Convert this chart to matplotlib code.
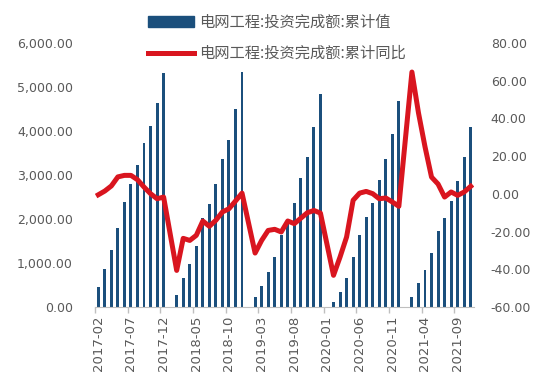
import numpy as np
import pandas as pd
import matplotlib
matplotlib.use('Agg')
import matplotlib.pyplot as plt
from matplotlib.patches import Patch
from matplotlib.lines import Line2D
from matplotlib.ticker import FuncFormatter

plt.rcParams['font.family'] = ['DejaVu Sans', 'Noto Sans CJK SC']

nan = np.nan

# months 2017-02 .. 2021-11, January has no data
months = pd.period_range('2017-02', '2021-11', freq='M').strftime('%Y-%m').tolist()

# 电网工程:投资完成额:累计值 (bars)
val_2017 = [448, 857, 1295, 1788, 2386, 2795, 3227, 3720, 4114, 4644, 5326]
val_2018 = [nan, 273, 651, 977, 1394, 2015, 2341, 2788, 3356, 3795, 4500, 5348]
val_2019 = [nan, 235, 485, 788, 1144, 1636, 1886, 2356, 2939, 3402, 4098, 4841]
val_2020 = [nan, 121, 348, 651, 1129, 1636, 2038, 2356, 2886, 3356, 3932, 4689]
val_2021 = [nan, 220, 538, 841, 1235, 1727, 2015, 2409, 2871, 3416, 4083]

# 电网工程:投资完成额:累计同比 (line)
yoy_2017 = [-0.5, 1.5, 4.2, 9.0, 9.8, 9.8, 7.5, 3.6, 0.1, -2.6, -1.7]
yoy_2018 = [nan, -40.6, -23.6, -24.7, -22.0, -14.4, -17.2, -14.0, -9.6, -7.9, -3.8, 0.4]
yoy_2019 = [nan, -31.4, -24.7, -19.4, -18.8, -20.2, -14.4, -15.8, -12.9, -10.0, -8.8, -10.2]
yoy_2020 = [nan, -43.2, -33.5, -22.9, -3.4, 0.4, 1.3, 0.1, -2.6, -2.2, -4.3, -6.6]
yoy_2021 = [nan, 64.6, 43.0, 25.0, 8.9, 5.2, -1.7, 1.0, -0.8, 1.0, 4.0]

values = np.array(val_2017 + val_2018 + val_2019 + val_2020 + val_2021, dtype=float)
yoy = np.array(yoy_2017 + yoy_2018 + yoy_2019 + yoy_2020 + yoy_2021, dtype=float)

bar_color = '#1B4F7C'
line_color = '#D9151F'
text_color = '#595959'

fig = plt.figure(figsize=(5.5, 3.9), dpi=100)
ax = fig.add_axes([95 / 550, 1 - 307 / 390, 379 / 550, 264 / 390])
ax2 = ax.twinx()

x = np.arange(len(months))
ax.bar(x, np.nan_to_num(values), width=0.45, color=bar_color, zorder=2)
ok = ~np.isnan(yoy)
ax2.plot(x[ok], yoy[ok], color=line_color, lw=3.6, solid_joinstyle='round', zorder=3)

ax.set_xlim(-0.5, len(months) - 0.5)
ax.set_ylim(0, 6000)
ax.set_yticks(np.arange(0, 6001, 1000))
ax.yaxis.set_major_formatter(FuncFormatter(lambda v, p: f'{v:,.2f}'))
ax2.set_ylim(-60, 80)
ax2.set_yticks(np.arange(-60, 81, 20))
ax2.yaxis.set_major_formatter(FuncFormatter(lambda v, p: f'{v:.2f}'))

lab_idx = np.arange(0, len(months), 5)
ax.set_xticks(lab_idx)
ax.set_xticklabels([months[i] for i in lab_idx], rotation=90)
ax.set_xticks(lab_idx - 0.5, minor=True)
ax.tick_params(axis='x', which='major', length=0, pad=6, labelsize=9.5, labelcolor=text_color)
ax.tick_params(axis='x', which='minor', length=4, color='#BFBFBF', width=1)
ax.tick_params(axis='y', length=0, pad=16, labelsize=9, labelcolor=text_color)
ax2.tick_params(axis='y', length=0, pad=12, labelsize=9, labelcolor=text_color)

for a in (ax, ax2):
    for s in ('top', 'left', 'right', 'bottom'):
        a.spines[s].set_visible(False)
ax.spines['bottom'].set_visible(True)
ax.spines['bottom'].set_color('#BFBFBF')

handles = [Patch(color=bar_color), Line2D([], [], color=line_color, lw=3.6)]
labels = ['电网工程:投资完成额:累计值', '电网工程:投资完成额:累计同比']
fig.legend(handles, labels, loc='upper left', bbox_to_anchor=(148 / 550, 0.965),
           frameon=False, handlelength=3.0, handletextpad=0.35,
           labelspacing=0.95, borderpad=0, borderaxespad=0, labelcolor=text_color,
           prop={'family': ['Noto Sans CJK SC', 'DejaVu Sans'], 'size': 11})

fig.savefig('out.png', dpi=100)
